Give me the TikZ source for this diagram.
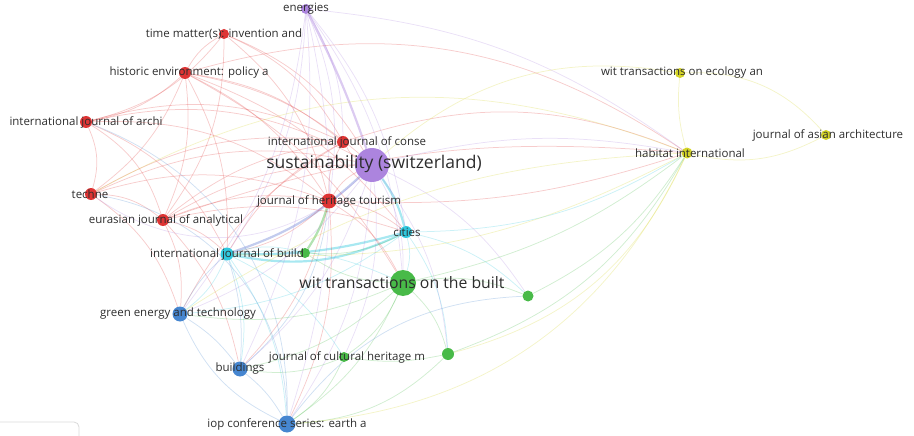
\documentclass[tikz,border=0pt]{standalone}
\usepackage{fontspec}
\setmainfont{Open Sans}
\usetikzlibrary{backgrounds}
\definecolor{cred}{RGB}{222,52,52}
\definecolor{cpur}{RGB}{172,132,222}
\definecolor{cgrn}{RGB}{72,186,72}
\definecolor{cblu}{RGB}{70,134,208}
\definecolor{ccya}{RGB}{48,200,222}
\definecolor{cyel}{RGB}{212,212,40}
\definecolor{ctxt}{RGB}{45,45,45}
\tikzset{
  dot/.style={circle,fill=#1,draw=none,inner sep=0pt},
  lbl/.style={text=ctxt,inner sep=0pt,font=\fontsize{11.5}{13}\selectfont},
  big/.style={text=ctxt,inner sep=0pt,font=\fontsize{17.5}{20}\selectfont},
  mid/.style={text=ctxt,inner sep=0pt,font=\fontsize{15.8}{18}\selectfont},
  e/.style={draw=#1,draw opacity=0.25,line width=0.75pt},
  te/.style={draw=#1,draw opacity=0.42,line width=2.2pt},
}
\begin{document}
\begin{tikzpicture}[x=1pt,y=-1pt]
\useasboundingbox (0,0) rectangle (914,436);
% nodes (circles)
\node[dot=cpur,minimum size=10pt] (en) at (306,9) {};
\node[dot=cred,minimum size=10pt] (tm) at (224,34) {};
\node[dot=cred,minimum size=12pt] (he) at (185,73) {};
\node[dot=cred,minimum size=12pt] (ija) at (86,122) {};
\node[dot=cred,minimum size=12pt] (ijc) at (343,142) {};
\node[dot=cpur,minimum size=34pt] (su) at (372,165) {};
\node[dot=cred,minimum size=12pt] (tc) at (91,194) {};
\node[dot=cred,minimum size=12pt] (eja) at (163,220) {};
\node[dot=cred,minimum size=15pt] (jht) at (329,201) {};
\node[dot=ccya,minimum size=12pt] (ci) at (406,232) {};
\node[dot=ccya,minimum size=13pt] (ijb) at (227,254) {};
\node[dot=cgrn,minimum size=10pt] (gb) at (305,253) {};
\node[dot=cgrn,minimum size=26pt] (wb) at (403,283) {};
\node[dot=cgrn,minimum size=11pt] (g1) at (528,296) {};
\node[dot=cgrn,minimum size=12pt] (g2) at (448,354) {};
\node[dot=cblu,minimum size=15pt] (ge) at (180,314) {};
\node[dot=cgrn,minimum size=10pt] (jch) at (344,357) {};
\node[dot=cblu,minimum size=15pt] (bu) at (240,369) {};
\node[dot=cblu,minimum size=17pt] (io) at (287,424) {};
\node[dot=cyel,minimum size=10pt] (we) at (680,73) {};
\node[dot=cyel,minimum size=10pt] (ja) at (826,135) {};
\node[dot=cyel,minimum size=11pt] (hi) at (687,153) {};
% legend box corner
\draw[black!15,line width=0.8pt,rounded corners=5pt] (0,422) -| (79,436);
% edges
\begin{pgfonlayer}{background}
% thick
\draw[te=cpur] (en) to[bend left=4] (su);
\draw[te=cblu!60!cpur] (su) to[bend left=12] (ijb);
\draw[te=ccya] (ijb) to[bend right=18] (ci);
\draw[te=ccya] (ci) to[bend left=8] (ijb);
\draw[te=ccya] (su) to[bend left=10] (ci);
\draw[te=cgrn] (jht) to[bend left=8] (gb);
% red
\foreach \b in {su,ijc,jht,eja,ija,tm,tc,ijb,wb,ci}{\draw[e=cred] (he) to[bend left=15] (\b);}
\draw[e=cred] (he) to[bend left=25] (hi);
\foreach \b in {su,ijc,jht,eja,ija}{\draw[e=cred] (tm) to[bend left=18] (\b);}
\foreach \b in {su,tc,eja,jht,ijc,ijb}{\draw[e=cred] (ija) to[bend left=20] (\b);}
\draw[e=cred] (ijc) to[bend left=20] (hi);
\foreach \b in {su,jht,eja,ijb,ge}{\draw[e=cred] (ijc) to[bend right=15] (\b);}
\foreach \b in {su,eja,jht,ijc,ge}{\draw[e=cred] (tc) to[bend left=18] (\b);}
\foreach \b in {su,jht,ijb,ci,ge,bu}{\draw[e=cred] (eja) to[bend left=15] (\b);}
\draw[e=cred] (eja) to[bend left=12] (hi);
\foreach \b in {su,ijb,ci,wb,bu,io}{\draw[e=cred] (jht) to[bend left=15] (\b);}
\draw[e=cred] (jht) to[bend right=10] (hi);
% purple
\foreach \b in {ijc,jht,ci,ge,ijb,wb,bu,io}{\draw[e=cpur] (en) to[bend left=15] (\b);}
\draw[e=cpur] (en) to[bend left=15] (hi);
\foreach \b in {ge,bu,io,jch,g1,g2,wb}{\draw[e=cpur] (su) to[bend left=15] (\b);}
\draw[e=cpur] (su) to[bend left=12] (hi);
\draw[e=cpur] (su) to[bend left=40] (tc);
% cyan
\foreach \b in {wb,ge,bu,io,gb,jch}{\draw[e=ccya] (ijb) to[bend left=15] (\b);}
\foreach \b in {wb,g1,ge,g2}{\draw[e=ccya] (ci) to[bend left=15] (\b);}
\draw[e=ccya] (ci) to[bend right=15] (hi);
% green
\foreach \b in {g1,g2,jch,gb,io,bu,ge}{\draw[e=cgrn] (wb) to[bend left=15] (\b);}
\draw[e=cgrn] (wb) to[bend right=12] (hi);
\draw[e=cgrn] (g1) to[bend right=15] (hi);
\draw[e=cgrn] (g2) to[bend right=20] (hi);
\draw[e=cgrn] (g2) to[bend left=10] (jch);
\draw[e=cgrn] (g2) to[bend left=20] (io);
\draw[e=cgrn] (jch) to[bend left=15] (io);
\draw[e=cgrn] (jch) to[bend left=15] (bu);
\draw[e=cgrn] (gb) to[bend right=15] (ci);
% blue
\draw[e=cblu] (ge) to[bend left=10] (bu);
\draw[e=cblu] (ge) to[bend right=20] (io);
\draw[e=cblu] (bu) to[bend left=10] (io);
\draw[e=cblu] (ge) to[bend left=10] (ijb);
\draw[e=cblu] (bu) to[bend right=10] (ijb);
\draw[e=cblu] (io) to[bend right=40] (tc);
\draw[e=cblu] (io) to[bend right=35] (ija);
\draw[e=cblu] (io) to[bend left=25] (g1);
\draw[e=cblu] (bu) to[bend right=20] (jht);
% yellow
\draw[e=cyel] (hi) to[bend left=10] (we);
\draw[e=cyel] (hi) to[bend right=20] (ja);
\draw[e=cyel] (we) to[bend left=25] (ja);
\draw[e=cyel] (we) to[bend right=25] (su);
\draw[e=cyel] (hi) to[bend right=25] (tc);
\draw[e=cyel] (hi) to[bend left=30] (io);
\draw[e=cyel] (hi) to[bend left=25] (g2);
\draw[e=cyel] (hi) to[bend left=15] (ijb);
\draw[e=cyel] (hi) to[bend right=15] (ge);
\end{pgfonlayer}
% labels
\node[lbl] (l-en) at (306,9) {energies};
\node[lbl] (l-tm) at (224,34) {time matter(s): invention and};
\node[lbl] (l-he) at (189,73) {historic environment: policy a};
\node[lbl] (l-ija) at (86,122) {international journal of archi};
\node[lbl] (l-ijc) at (347,142) {international journal of conse};
\node[big] (l-su) at (374,164) {sustainability (switzerland)};
\node[lbl] (l-tc) at (90,194) {techne};
\node[lbl] (l-eja) at (166,220) {eurasian journal of analytical};
\node[lbl] (l-jht) at (329,201) {journal of heritage tourism};
\node[lbl] (l-ci) at (407,232) {cities};
\node[lbl] (l-ijb) at (227,254) {international journal of build};
\node[mid] (l-wb) at (402,283) {wit transactions on the built};
\node[lbl] (l-ge) at (178,314) {green energy and technology};
\node[lbl] (l-jch) at (347,357) {journal of cultural heritage m};
\node[lbl] (l-bu) at (240,369) {buildings};
\node[lbl] (l-io) at (287,424) {iop conference series: earth a};
\node[lbl] (l-we) at (682,73) {wit transactions on ecology an};
\node[lbl] (l-ja) at (828,135) {journal of asian architecture};
\node[lbl] (l-hi) at (690,153) {habitat international};
\end{tikzpicture}
\end{document}
